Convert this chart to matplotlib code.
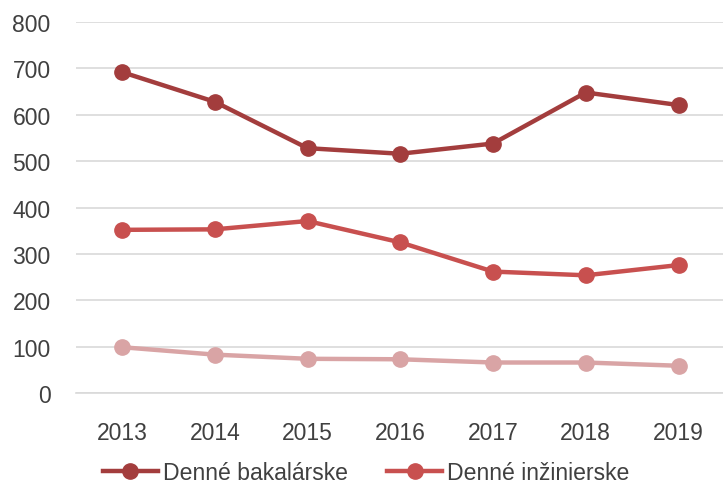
import matplotlib.pyplot as plt
import numpy as np

years = ['2013', '2014', '2015', '2016', '2017', '2018', '2019']
bakalarske = [692, 628, 528, 516, 538, 648, 621]
inzinierske = [352, 353, 371, 325, 262, 254, 276]
tretia = [99, 83, 74, 73, 66, 66, 59]

plt.rcParams['font.family'] = ['Liberation Sans', 'DejaVu Sans']

fig = plt.figure(figsize=(7.23, 4.89), dpi=100)
ax = fig.add_axes([0.1046, 0.194, 0.898, 0.759])

x = np.arange(len(years))
p1, = ax.plot(x, bakalarske, color='#A33D3D', lw=3.2, marker='o', ms=11, label='Denné bakalárske')
p2, = ax.plot(x, inzinierske, color='#C8504F', lw=3.2, marker='o', ms=11, label='Denné inžinierske')
ax.plot(x, tretia, color='#D9A4A5', lw=3.2, marker='o', ms=11)

ax.set_xlim(-0.5, 6.5)
ax.set_ylim(0, 800)
ax.set_yticks(range(0, 801, 100))
ax.set_xticks(x)
ax.set_xticklabels(years)
ax.yaxis.grid(True, color='#D9D9D9', lw=1.2)
ax.set_axisbelow(True)
for s in ['top', 'right', 'left']:
    ax.spines[s].set_visible(False)
ax.spines['bottom'].set_color('#D9D9D9')
ax.spines['bottom'].set_linewidth(1.2)
ax.tick_params(length=0, labelsize=16.5, colors='#404040')
ax.tick_params(axis='x', pad=20)
ax.tick_params(axis='y', pad=18)

fig.legend(handles=[p1, p2], loc='center', bbox_to_anchor=(0.507, 0.031), ncol=2, frameon=False,
           fontsize=16.6, labelcolor='#404040', handlelength=2.35, handletextpad=0.25,
           columnspacing=1.7, borderpad=0)

fig.savefig('out.png', dpi=100)
